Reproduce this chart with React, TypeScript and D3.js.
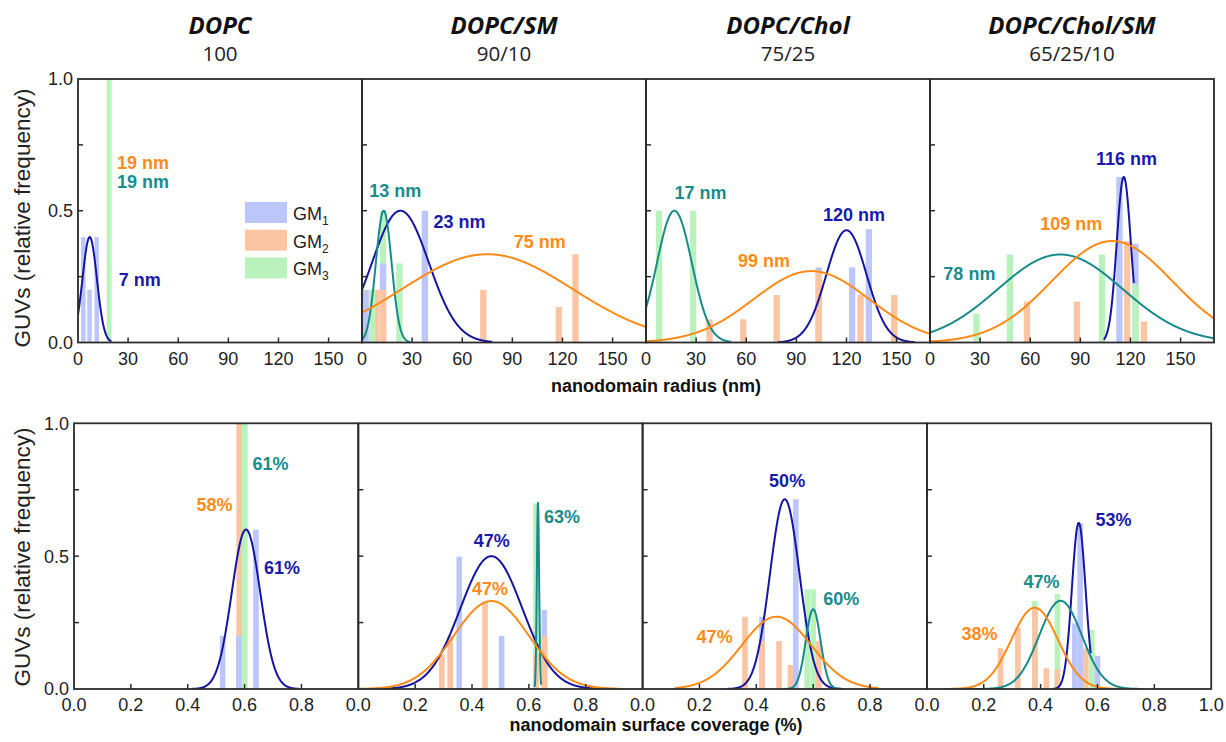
import React from "react";
import * as d3 from "d3";

// ---------- data ----------
const compositions = ["DOPC", "DOPC/SM", "DOPC/Chol", "DOPC/Chol/SM"];
const ratios = ["100", "90/10", "75/25", "65/25/10"];
const seriesNames = ["GM", "GM", "GM"];
const seriesSubs = ["1", "2", "3"];
const radiusTicks = [0, 30, 60, 90, 120, 150];
const coverageTicks = [0, 0.2, 0.4, 0.6, 0.8];
const coverageTicksLast = [0, 0.2, 0.4, 0.6, 0.8, 1.0];
const yTickLabels = [0, 0.5, 1.0];
const yTickMarks = [0.25, 0.5, 0.75];
const radiusDomain = [0, 170];
const coverageDomain = [0, 1];

// radius histograms: [radius nm, relative frequency]
const r1GM1 = [[3.2, 0.4], [6.9, 0.2], [11.2, 0.4]];
const r1GM2 = [[18.6, 1.0]];
const r1GM3 = [[18.6, 1.0]];
const r2GM1 = [[2.2, 0.2], [12.6, 0.3], [37.6, 0.5]];
const r2GM2 = [[8.6, 0.2], [12.6, 0.2], [72.6, 0.2], [117.8, 0.135], [127.8, 0.335]];
const r2GM3 = [[6.2, 0.2], [12.6, 0.5], [22.4, 0.3]];
const r3GM1 = [[103.4, 0.285], [123.4, 0.285], [133.4, 0.43]];
const r3GM2 = [[38, 0.088], [58.2, 0.088], [78.2, 0.18], [103.4, 0.27], [128.4, 0.18], [148.6, 0.18]];
const r3GM3 = [[7.8, 0.5], [28.2, 0.5]];
const r4GM1 = [[113.4, 0.628], [123, 0.375]];
const r4GM2 = [[58, 0.155], [88, 0.155], [118, 0.385], [128, 0.08]];
const r4GM3 = [[27.8, 0.11], [47.8, 0.334], [103, 0.334], [123, 0.22]];

// coverage histograms: [coverage, relative frequency]
const c1GM1 = [[0.523, 0.2], [0.58, 0.2], [0.64, 0.6]];
const c1GM2 = [[0.581, 1.0]];
const c1GM3 = [[0.601, 1.0]];
const c2GM1 = [[0.355, 0.498], [0.504, 0.2], [0.654, 0.297]];
const c2GM2 = [[0.294, 0.13], [0.323, 0.2], [0.446, 0.329], [0.625, 0.13], [0.656, 0.2]];
const c2GM3 = [[0.625, 0.699]];
const c3GM1 = [[0.42, 0.272], [0.539, 0.714]];
const c3GM2 = [[0.36, 0.272], [0.42, 0.18], [0.48, 0.18], [0.52, 0.09], [0.62, 0.18]];
const c3GM3 = [[0.579, 0.375], [0.6, 0.375]];
const c4GM1 = [[0.52, 0.247], [0.539, 0.624], [0.6, 0.124]];
const c4GM2 = [[0.259, 0.153], [0.32, 0.231], [0.38, 0.304], [0.42, 0.078], [0.459, 0.074], [0.559, 0.153]];
const c4GM3 = [[0.38, 0.332], [0.459, 0.358], [0.58, 0.222]];

// Gaussian fits: [mean, sigma, amplitude, xFrom, xTo]
const r1Fits = [[7, 4.3, 0.4, 0, 20], null, null];
const r2Fits = [[23, 17, 0.5, 0, 78], [75, 51, 0.335, 0, 170], [13, 4.7, 0.5, 0, 29]];
const r3Fits = [[120, 12, 0.426, 79, 161], [99, 34.6, 0.271, 0, 170], [17, 10.4, 0.5, 0, 51]];
const r4Fits = [[116, 4.2, 0.628, 104, 122], [109, 36, 0.385, 0, 170], [78, 37.4, 0.334, 0, 170]];
const c1Fits = [[0.605, 0.05, 0.6, 0.414, 0.79], null, null];
const c2Fits = [[0.468, 0.109, 0.5, 0, 0.912], [0.468, 0.132, 0.331, 0, 0.92], [0.632, 0.004, 0.7, 0.62, 0.643]];
const c3Fits = [[0.5, 0.052, 0.714, 0.295, 0.712], [0.471, 0.122, 0.272, 0.114, 0.829], [0.6, 0.026, 0.3, 0.5, 0.71]];
const c4Fits = [[0.534, 0.024, 0.625, 0.444, 0.576], [0.379, 0.082, 0.306, 0.06, 0.7], [0.47, 0.075, 0.332, 0.11, 0.755]];

// annotations: [text, series, x, y]
const r1Labels = [["19 nm", 1, 23.4, 0.66], ["19 nm", 2, 23.4, 0.585], ["7 nm", 0, 24.4, 0.214]];
const r2Labels = [["13 nm", 2, 4.4, 0.552], ["23 nm", 0, 42.8, 0.435], ["75 nm", 1, 90.8, 0.359]];
const r3Labels = [["17 nm", 2, 17, 0.545], ["120 nm", 0, 106, 0.46], ["99 nm", 1, 55, 0.288]];
const r4Labels = [["116 nm", 0, 99.4, 0.672], ["109 nm", 1, 66, 0.426], ["78 nm", 2, 8, 0.237]];
const c1Labels = [["61%", 2, 0.628, 0.824], ["58%", 1, 0.431, 0.671], ["61%", 0, 0.668, 0.433]];
const c2Labels = [["47%", 0, 0.406, 0.533], ["47%", 1, 0.4, 0.354], ["63%", 2, 0.653, 0.626]];
const c3Labels = [["50%", 0, 0.445, 0.759], ["60%", 2, 0.635, 0.316], ["47%", 1, 0.19, 0.172]];
const c4Labels = [["53%", 0, 0.593, 0.614], ["47%", 2, 0.34, 0.379], ["38%", 1, 0.122, 0.184]];

// ---------- style ----------
const barColors = ["#bcc6fb", "#fbc4a2", "#baf2be"];
const lineColors = ["#1515a0", "#ff8a16", "#178a8a"];
const labelColors = ["#1a1aa8", "#ff8c1a", "#1a8c8c"];
const axisColor = "#2b2b2b";
const tickFont = "'Liberation Sans', Arial, sans-serif";

const radiusBars = [[r1GM1, r1GM2, r1GM3], [r2GM1, r2GM2, r2GM3], [r3GM1, r3GM2, r3GM3], [r4GM1, r4GM2, r4GM3]];
const coverageBars = [[c1GM1, c1GM2, c1GM3], [c2GM1, c2GM2, c2GM3], [c3GM1, c3GM2, c3GM3], [c4GM1, c4GM2, c4GM3]];
const radiusFits = [r1Fits, r2Fits, r3Fits, r4Fits];
const coverageFits = [c1Fits, c2Fits, c3Fits, c4Fits];
const radiusLabels = [r1Labels, r2Labels, r3Labels, r4Labels];
const coverageLabels = [c1Labels, c2Labels, c3Labels, c4Labels];

function Panel(props: any) {
  const { id, left, top, width, height, domain, bars, fits, labels, xTicks, xTickMarks, fmt, showY, barW } = props;
  const x = d3.scaleLinear().domain(domain).range([left, left + width]);
  const y = d3.scaleLinear().domain([0, 1]).range([top + height, top]);
  const allBars: any[] = [];
  bars.forEach((arr: number[][], s: number) => arr.forEach((b) => allBars.push({ s, x: b[0], v: b[1] })));
  const sorted = allBars
    .map((b, i) => ({ ...b, i }))
    .sort((a, b) => (b.v - a.v) || (a.s - b.s) || (a.i - b.i));
  const line = d3.line<number[]>().x((d) => x(d[0])).y((d) => y(d[1]));
  const curves = fits.map((f: number[] | null, s: number) => {
    if (!f) return null;
    const [mu, sd, amp, a, b] = f;
    const pts = d3.range(0, 601).map((k) => {
      const xv = a + ((b - a) * k) / 600;
      return [xv, amp * Math.exp(-((xv - mu) ** 2) / (2 * sd * sd))];
    });
    return <path key={"c" + s} d={line(pts) || ""} fill="none" stroke={lineColors[s]} strokeWidth={2} />;
  });
  const bottom = top + height;
  return (
    <g>
      <defs>
        <clipPath id={id}>
          <rect x={left} y={top} width={width} height={height} />
        </clipPath>
      </defs>
      <g clipPath={`url(#${id})`}>
        {sorted.map((b) => (
          <rect key={"b" + b.i + "_" + b.s} x={x(b.x) - barW / 2} y={y(b.v)} width={barW} height={bottom - y(b.v)} fill={barColors[b.s]} />
        ))}
        {curves[0]}
        {curves[2]}
        {curves[1]}
      </g>
      {labels.map((l: any[], i: number) => (
        <text key={"l" + i} x={x(l[2])} y={y(l[3])} fill={labelColors[l[1]]} fontFamily={tickFont} fontWeight="bold" fontSize={18}>
          {l[0]}
        </text>
      ))}
      {xTickMarks.map((t: number) => (
        <line key={"xt" + t} x1={x(t)} x2={x(t)} y1={bottom} y2={bottom - 5} stroke={axisColor} strokeWidth={1.5} />
      ))}
      {yTickMarks.map((t: number) => (
        <line key={"yt" + t} x1={left} x2={left + 5} y1={y(t)} y2={y(t)} stroke={axisColor} strokeWidth={1.5} />
      ))}
      <rect x={left} y={top} width={width} height={height} fill="none" stroke={axisColor} strokeWidth={1.8} />
      {xTicks.map((t: number) => (
        <text key={"xl" + t} x={x(t)} y={bottom + 22} textAnchor="middle" fontFamily={tickFont} fontSize={18} fill="#222">
          {fmt(t)}
        </text>
      ))}
      {showY &&
        yTickLabels.map((t) => (
          <text key={"yl" + t} x={left - 5} y={y(t)} dy="0.36em" textAnchor="end" fontFamily={tickFont} fontSize={18} fill="#222">
            {d3.format(".1f")(t)}
          </text>
        ))}
    </g>
  );
}

export default function App() {
  const topRow = { left: 78, top: 79, width: 284, height: 263.5 };
  const botRow = { left: 74, top: 423.3, width: 284.3, height: 265.7 };
  const legendTop = 202;
  return (
    <svg width={1226} height={742} style={{ position: "absolute", left: 0, top: 0, display: "block", background: "#fff" }}>
      {compositions.map((c, i) => {
        const cx = topRow.left + topRow.width * (i + 0.5);
        return (
          <g key={"t" + i}>
            <text x={cx} y={34} textAnchor="middle" fontFamily="'Open Sans', sans-serif" fontWeight="bold" fontStyle="italic" fontSize={24} fill="#111">
              {c}
            </text>
            <text x={cx} y={61} textAnchor="middle" fontFamily="'Open Sans', sans-serif" fontSize={20.5} fill="#222">
              {ratios[i]}
            </text>
          </g>
        );
      })}
      {compositions.map((c, i) => (
        <Panel
          key={"r" + i}
          id={"clipr" + i}
          left={topRow.left + topRow.width * i}
          top={topRow.top}
          width={topRow.width}
          height={topRow.height}
          domain={radiusDomain}
          bars={radiusBars[i]}
          fits={radiusFits[i]}
          labels={radiusLabels[i]}
          xTicks={radiusTicks}
          xTickMarks={radiusTicks.slice(1)}
          fmt={(t: number) => String(t)}
          showY={i === 0}
          barW={i === 0 ? 4.5 : 6.3}
        />
      ))}
      {compositions.map((c, i) => (
        <Panel
          key={"c" + i}
          id={"clipc" + i}
          left={botRow.left + botRow.width * i}
          top={botRow.top}
          width={botRow.width}
          height={botRow.height}
          domain={coverageDomain}
          bars={coverageBars[i]}
          fits={coverageFits[i]}
          labels={coverageLabels[i]}
          xTicks={i === 3 ? coverageTicksLast : coverageTicks}
          xTickMarks={coverageTicks.slice(1)}
          fmt={(t: number) => d3.format(".1f")(t)}
          showY={i === 0}
          barW={5.6}
        />
      ))}
      {/* legend */}
      {seriesNames.map((n, s) => (
        <g key={"lg" + s}>
          <rect x={245} y={legendTop + s * 27.7} width={42} height={21} fill={barColors[s]} />
          <text x={293} y={legendTop + s * 27.7 + 18} fontFamily={tickFont} fontSize={18} fill="#222">
            {n}
            <tspan fontSize={12} dy={5}>{seriesSubs[s]}</tspan>
          </text>
        </g>
      ))}
      {/* axis titles */}
      <text x={656} y={392} textAnchor="middle" fontFamily={tickFont} fontWeight="bold" fontSize={18} fill="#111">
        nanodomain radius (nm)
      </text>
      <text x={656} y={731} textAnchor="middle" fontFamily={tickFont} fontWeight="bold" fontSize={18} fill="#111">
        nanodomain surface coverage (%)
      </text>
      <text transform="translate(30,218) rotate(-90)" textAnchor="middle" fontFamily={tickFont} fontSize={22.5} fill="#222">
        GUVs (relative frequency)
      </text>
      <text transform="translate(30,557) rotate(-90)" textAnchor="middle" fontFamily={tickFont} fontSize={22.5} fill="#222">
        GUVs (relative frequency)
      </text>
    </svg>
  );
}
